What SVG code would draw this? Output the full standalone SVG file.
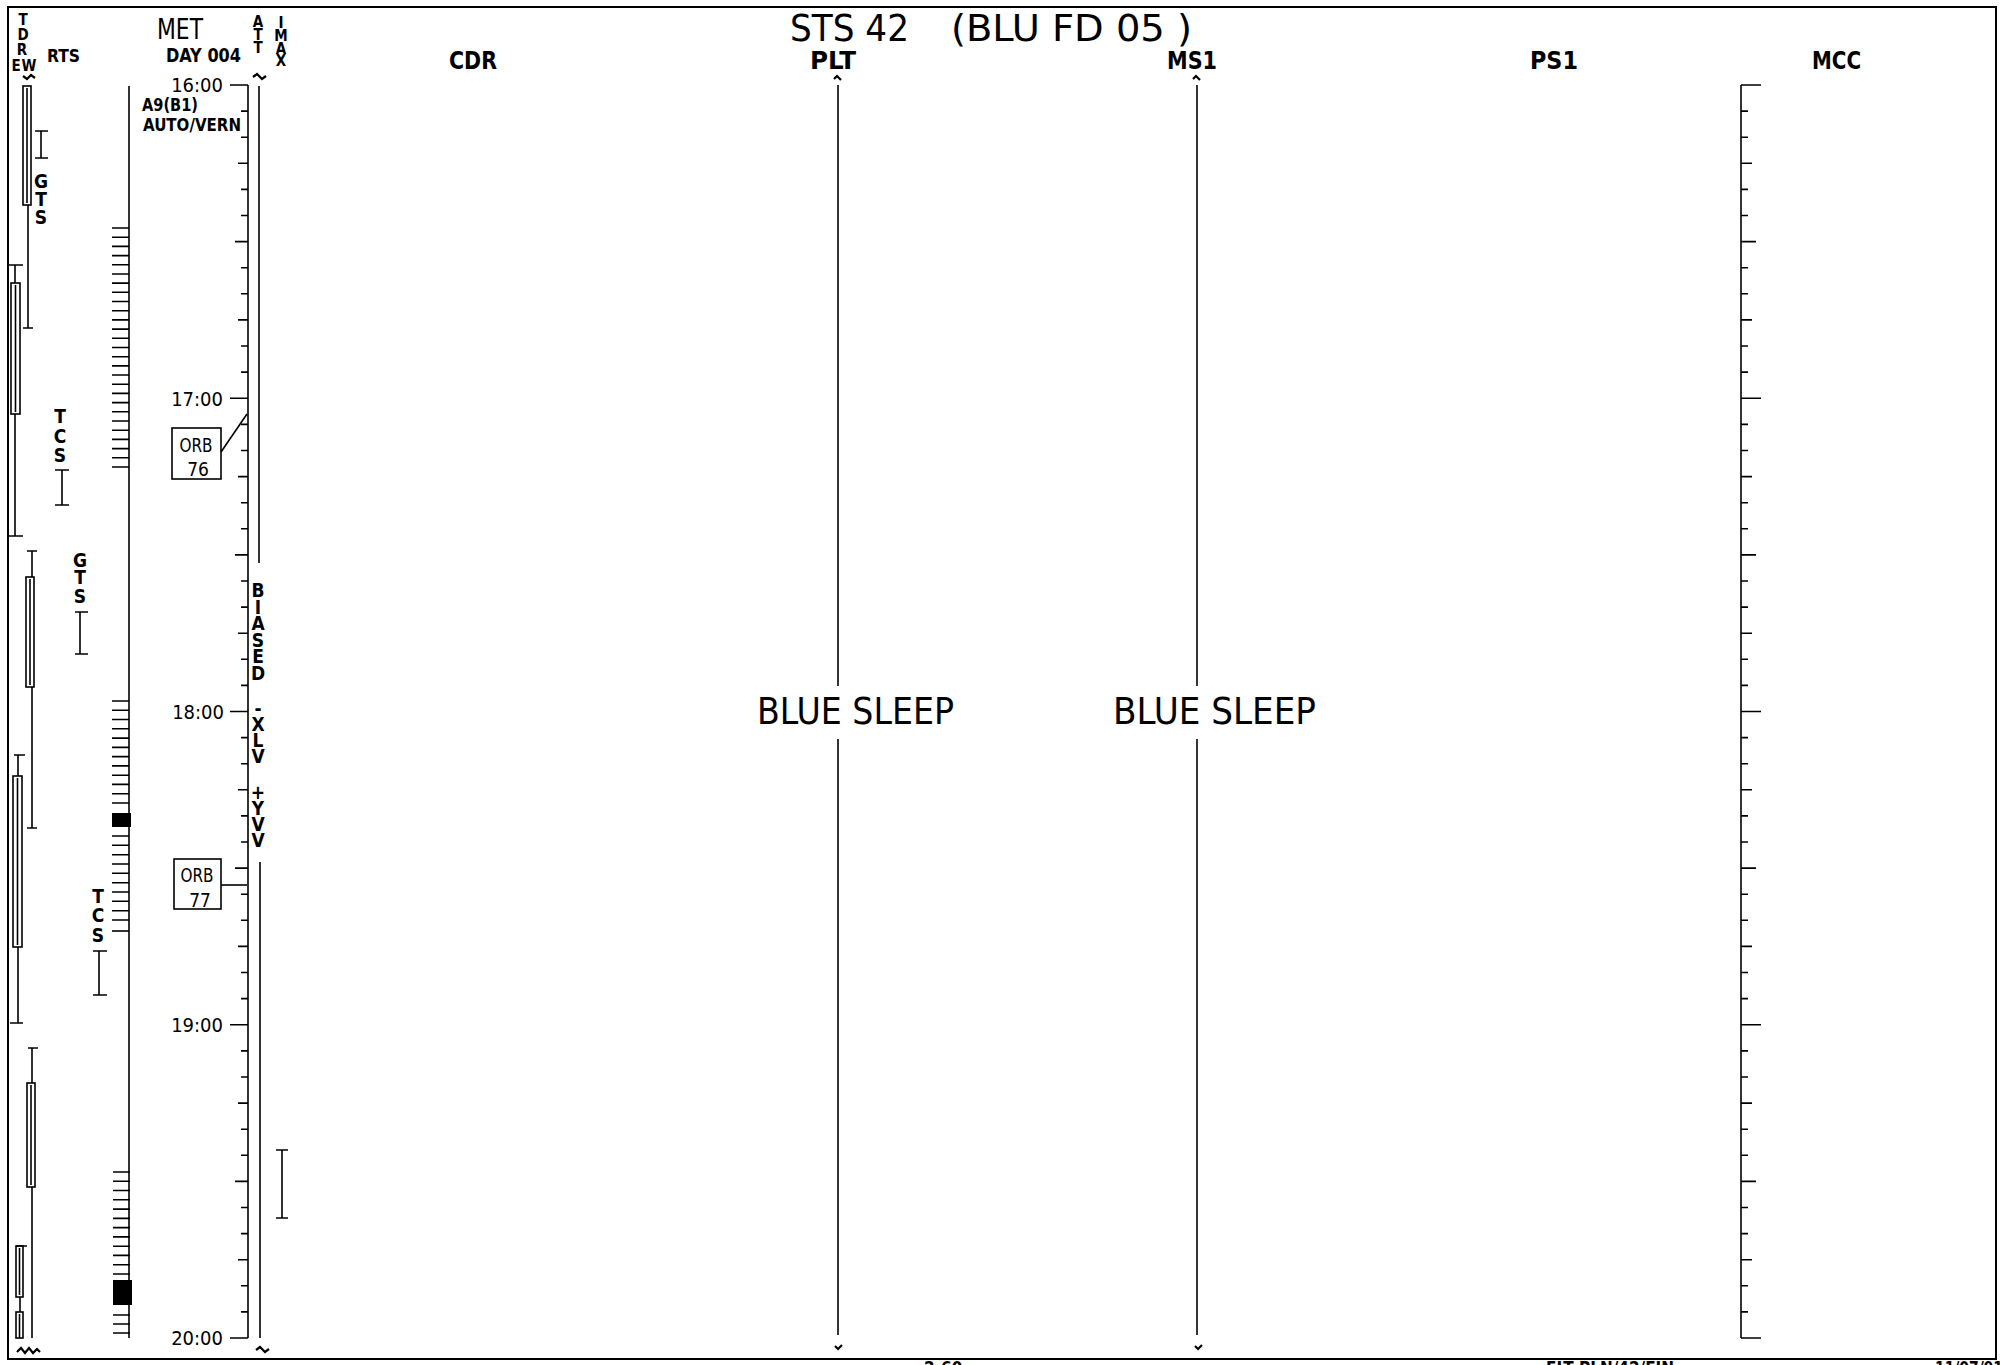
<svg xmlns="http://www.w3.org/2000/svg" width="2000" height="1365" viewBox="0 0 2000 1365">
<style>
.ln{stroke:#000;fill:none;stroke-width:1.6}
.bx{stroke:#000;fill:#fff;stroke-width:1.6}
.sq{stroke:#000;fill:none;stroke-width:2.2;stroke-linejoin:miter}
text{font-family:'Liberation Sans Narrow','DejaVu Sans Condensed','Liberation Sans',sans-serif;fill:#000}
.b{font-weight:bold}
.v{font-weight:bold;text-anchor:middle}
.hdr{font-weight:bold;font-size:25px}
.tm{font-size:20px;text-anchor:end}
.orb{font-size:19px;text-anchor:middle}
</style>
<rect x="0" y="0" width="2000" height="1365" fill="#fff"/>
<rect id="frame" x="8" y="7" width="1988" height="1352" fill="none" stroke="#000" stroke-width="2"/>

<g id="title">
<text x="790" y="41" font-size="38" textLength="119" lengthAdjust="spacingAndGlyphs">STS 42</text>
<text x="951" y="41" font-size="38" textLength="241" lengthAdjust="spacingAndGlyphs" xml:space="preserve">(BLU FD 05 )</text>
</g>

<g id="headers">
<text class="hdr" x="449" y="69" textLength="48" lengthAdjust="spacingAndGlyphs">CDR</text>
<text class="hdr" x="810" y="69" textLength="46" lengthAdjust="spacingAndGlyphs">PLT</text>
<text class="hdr" x="1167" y="69" textLength="50" lengthAdjust="spacingAndGlyphs">MS1</text>
<text class="hdr" x="1530" y="69" textLength="48" lengthAdjust="spacingAndGlyphs">PS1</text>
<text class="hdr" x="1812" y="69" textLength="49" lengthAdjust="spacingAndGlyphs">MCC</text>
</g>

<g id="tdrs-header">
<text class="v" font-size="15"><tspan x="23" y="25">T</tspan><tspan x="23" y="40">D</tspan><tspan x="22" y="55">R</tspan><tspan x="16" y="71">E</tspan><tspan x="29" y="71">W</tspan></text>
<text class="b" x="47" y="62" font-size="17" textLength="33" lengthAdjust="spacingAndGlyphs">RTS</text>
<path class="sq" d="M23,76 l4,3 l4,-4 l4,3"/>
</g>

<g id="met-header">
<text x="157" y="39" font-size="28" textLength="46" lengthAdjust="spacingAndGlyphs">MET</text>
<text class="b" x="166" y="62" font-size="19" textLength="75" lengthAdjust="spacingAndGlyphs">DAY 004</text>
<text class="v" font-size="15"><tspan x="258" y="27">A</tspan><tspan x="258" y="40">T</tspan><tspan x="258" y="53">T</tspan></text>
<text class="v" font-size="15"><tspan x="281" y="28">I</tspan><tspan x="281" y="41">M</tspan><tspan x="281" y="54">A</tspan><tspan x="281" y="66">X</tspan></text>
<path class="sq" d="M253,77 l4,-3 l5,5 l4,-3"/>
</g>

<g id="tdrs-bars">
<rect class="ln" x="23" y="86" width="8" height="119"/>
<line class="ln" x1="27" y1="88" x2="27" y2="203" stroke-width="0.8"/>
<path class="ln" d="M28,205V328M23,328H33"/>
<path class="ln" d="M27,551H37M32,551V577M32,687V828M27,828H37"/>
<rect class="ln" x="26" y="577" width="8" height="110"/>
<line class="ln" x1="30" y1="579" x2="30" y2="685" stroke-width="0.8"/>
<path class="ln" d="M28,1048H38M32,1048V1083M32,1187V1338"/>
<rect class="ln" x="27" y="1083" width="8" height="104"/>
<line class="ln" x1="31" y1="1085" x2="31" y2="1185" stroke-width="0.8"/>
<path class="ln" d="M9,265H23M15,265V283M15,414V536M9,536H23"/>
<rect class="ln" x="11" y="283" width="9" height="131"/>
<line class="ln" x1="15.5" y1="285" x2="15.5" y2="412" stroke-width="0.8"/>
<path class="ln" d="M14,755H25M18,755V776M18,947V1023M10,1023H23"/>
<rect class="ln" x="13" y="776" width="9" height="171"/>
<line class="ln" x1="17.5" y1="778" x2="17.5" y2="945" stroke-width="0.8"/>
<path class="ln" d="M16,1246H27M20,1297V1312"/>
<rect class="ln" x="16" y="1246" width="7" height="51"/>
<line class="ln" x1="19.5" y1="1248" x2="19.5" y2="1295" stroke-width="0.8"/>
<rect class="ln" x="16" y="1312" width="7" height="26"/>
<line class="ln" x1="19.5" y1="1314" x2="19.5" y2="1338" stroke-width="0.8"/>
<path class="sq" d="M17,1352 l4,-4 l4,5 l4,-5 l4,5 l4,-4 l3,3"/>
</g>

<g id="gts-tcs">
<path class="ln" d="M35,131H48M41,131V158M35,158H48"/>
<text class="v" font-size="19"><tspan x="41" y="188">G</tspan><tspan x="41" y="206">T</tspan><tspan x="41" y="224">S</tspan></text>
<text class="v" font-size="19"><tspan x="60" y="423">T</tspan><tspan x="60" y="443">C</tspan><tspan x="60" y="462">S</tspan></text>
<path class="ln" d="M55,470H69M62,470V505M55,505H69"/>
<text class="v" font-size="19"><tspan x="80" y="567">G</tspan><tspan x="80" y="584">T</tspan><tspan x="80" y="603">S</tspan></text>
<path class="ln" d="M75,612H88M80,612V654M75,654H88"/>
<text class="v" font-size="19"><tspan x="98" y="903">T</tspan><tspan x="98" y="922">C</tspan><tspan x="98" y="942">S</tspan></text>
<path class="ln" d="M93,951H107M99,951V995M93,995H107"/>
</g>

<g id="rts-column">
<line class="ln" x1="129" y1="86" x2="129" y2="1338" stroke-width="2"/>
<path class="ln" d="M112,228H129M112,237.2H129M112,246.4H129M112,255.6H129M112,264.8H129M112,274H129M112,283.1H129M112,292.3H129M112,301.5H129M112,310.7H129M112,319.9H129M112,329.1H129M112,338.3H129M112,347.5H129M112,356.7H129M112,365.9H129M112,375H129M112,384.2H129M112,393.4H129M112,402.6H129M112,411.8H129M112,421H129M112,430.2H129M112,439.4H129M112,448.6H129M112,457.8H129M112,467H129"/>
<path class="ln" d="M112,701H129M112,710.3H129M112,719.5H129M112,728.8H129M112,738.1H129M112,747.4H129M112,756.6H129M112,765.9H129M112,775.2H129M112,784.4H129M112,793.7H129M112,803H129"/>
<rect x="112" y="813" width="19" height="14" fill="#000"/>
<path class="ln" d="M112,836H129M112,845.3H129M112,854.7H129M112,864H129M112,873.3H129M112,882.7H129M112,892H129M112,901.3H129M112,910.7H129M112,920H129"/>
<path class="ln" d="M112,931H129" stroke-width="3.5"/>
<path class="ln" d="M113,1172H130M113,1181.3H130M113,1190.5H130M113,1199.8H130M113,1209.1H130M113,1218.4H130M113,1227.6H130M113,1236.9H130M113,1246.2H130M113,1255.4H130M113,1264.7H130M113,1274H130"/>
<rect x="113" y="1280" width="19" height="25" fill="#000"/>
<path class="ln" d="M113,1315H130M113,1324H130M113,1333H130"/>
</g>

<g id="met-axis">
<line class="ln" x1="248" y1="85" x2="248" y2="1338" stroke-width="2"/>
<path class="ln" d="M230,85H248M241,111.1H248M241,137.2H248M238,163.3H248M241,189.4H248M241,215.5H248M235,241.6H248M241,267.7H248M241,293.8H248M238,319.9H248M241,346H248M241,372.1H248M230,398.3H248M241,424.4H248M241,450.5H248M238,476.6H248M241,502.7H248M241,528.8H248M235,554.9H248M241,581H248M241,607.1H248M238,633.2H248M241,659.3H248M241,685.4H248M230,711.5H248M241,737.6H248M241,763.7H248M238,789.8H248M241,815.9H248M241,842H248M235,868.1H248M241,894.2H248M241,920.3H248M238,946.4H248M241,972.5H248M241,998.6H248M230,1024.8H248M241,1050.9H248M241,1077H248M238,1103.1H248M241,1129.2H248M241,1155.3H248M235,1181.4H248M241,1207.5H248M241,1233.6H248M238,1259.7H248M241,1285.8H248M241,1311.9H248M230,1338H248"/>
<text class="tm" x="223" y="92">16:00</text>
<text class="tm" x="223" y="406">17:00</text>
<text class="tm" x="224" y="719">18:00</text>
<text class="tm" x="223" y="1032">19:00</text>
<text class="tm" x="223" y="1345">20:00</text>
<text class="b" x="142" y="111" font-size="17" textLength="56" lengthAdjust="spacingAndGlyphs">A9(B1)</text>
<text class="b" x="143" y="131" font-size="17" textLength="98" lengthAdjust="spacingAndGlyphs">AUTO/VERN</text>
</g>

<g id="att-column">
<line class="ln" x1="259" y1="86" x2="259" y2="563"/>
<line class="ln" x1="260" y1="862" x2="260" y2="1338"/>
<text class="v" font-size="19"><tspan x="258" y="597">B</tspan><tspan x="258" y="613.5">I</tspan><tspan x="258" y="630">A</tspan><tspan x="258" y="646.5">S</tspan><tspan x="258" y="663">E</tspan><tspan x="258" y="680">D</tspan></text>
<text class="v" font-size="19"><tspan x="258" y="715">-</tspan><tspan x="258" y="731">X</tspan><tspan x="258" y="747">L</tspan><tspan x="258" y="763">V</tspan></text>
<text class="v" font-size="19"><tspan x="258" y="799">+</tspan><tspan x="258" y="815">Y</tspan><tspan x="258" y="831">V</tspan><tspan x="258" y="847">V</tspan></text>
<path class="sq" d="M256,1350 l4,-3 l5,5 l4,-3"/>
</g>

<g id="imax-column">
<path class="ln" d="M276,1150H288M282,1150V1218M276,1218H288" stroke-width="2"/>
</g>

<g id="orb-76">
<rect class="bx" x="172" y="428" width="49" height="51"/>
<text class="orb" x="196" y="452" textLength="33" lengthAdjust="spacingAndGlyphs">ORB</text>
<text class="orb" x="198" y="476">76</text>
</g>
<g id="orb-77">
<rect class="bx" x="174" y="859" width="47" height="50"/>
<text class="orb" x="197" y="882" textLength="33" lengthAdjust="spacingAndGlyphs">ORB</text>
<text class="orb" x="200" y="907">77</text>
</g>

<g id="connectors">
<line class="ln" x1="221" y1="452" x2="247" y2="414"/>
<line class="ln" x1="221" y1="885" x2="247" y2="885"/>
</g>

<g id="plt-column">
<path class="sq" d="M834,79 l3,-3 l4,4"/>
<line class="ln" x1="838" y1="85" x2="838" y2="686"/>
<line class="ln" x1="838" y1="739" x2="838" y2="1335"/>
<text x="757" y="724" font-size="38" textLength="197" lengthAdjust="spacingAndGlyphs">BLUE SLEEP</text>
<path class="sq" d="M835,1346 l3,3 l4,-4"/>
</g>

<g id="ms1-column">
<path class="sq" d="M1193,79 l3,-3 l4,4"/>
<line class="ln" x1="1197" y1="85" x2="1197" y2="686"/>
<line class="ln" x1="1197" y1="739" x2="1197" y2="1335"/>
<text x="1113" y="724" font-size="38" textLength="203" lengthAdjust="spacingAndGlyphs">BLUE SLEEP</text>
<path class="sq" d="M1195,1346 l3,3 l4,-4"/>
</g>

<g id="mcc-axis">
<line class="ln" x1="1741" y1="85" x2="1741" y2="1338" stroke-width="2"/>
<path class="ln" d="M1741,85H1761M1741,111.1H1748M1741,137.2H1748M1741,163.3H1752M1741,189.4H1748M1741,215.5H1748M1741,241.6H1756M1741,267.7H1748M1741,293.8H1748M1741,319.9H1752M1741,346H1748M1741,372.1H1748M1741,398.3H1761M1741,424.4H1748M1741,450.5H1748M1741,476.6H1752M1741,502.7H1748M1741,528.8H1748M1741,554.9H1756M1741,581H1748M1741,607.1H1748M1741,633.2H1752M1741,659.3H1748M1741,685.4H1748M1741,711.5H1761M1741,737.6H1748M1741,763.7H1748M1741,789.8H1752M1741,815.9H1748M1741,842H1748M1741,868.1H1756M1741,894.2H1748M1741,920.3H1748M1741,946.4H1752M1741,972.5H1748M1741,998.6H1748M1741,1024.8H1761M1741,1050.9H1748M1741,1077H1748M1741,1103.1H1752M1741,1129.2H1748M1741,1155.3H1748M1741,1181.4H1756M1741,1207.5H1748M1741,1233.6H1748M1741,1259.7H1752M1741,1285.8H1748M1741,1311.9H1748M1741,1338H1761"/>
</g>

<g id="footer">
<text class="b" x="924" y="1374" font-size="17">2-60</text>
<text class="b" x="1546" y="1374" font-size="17" textLength="128" lengthAdjust="spacingAndGlyphs">FLT PLN/42/FIN</text>
<text class="b" x="1935" y="1374" font-size="17" textLength="68" lengthAdjust="spacingAndGlyphs">11/07/91</text>
</g>
</svg>
